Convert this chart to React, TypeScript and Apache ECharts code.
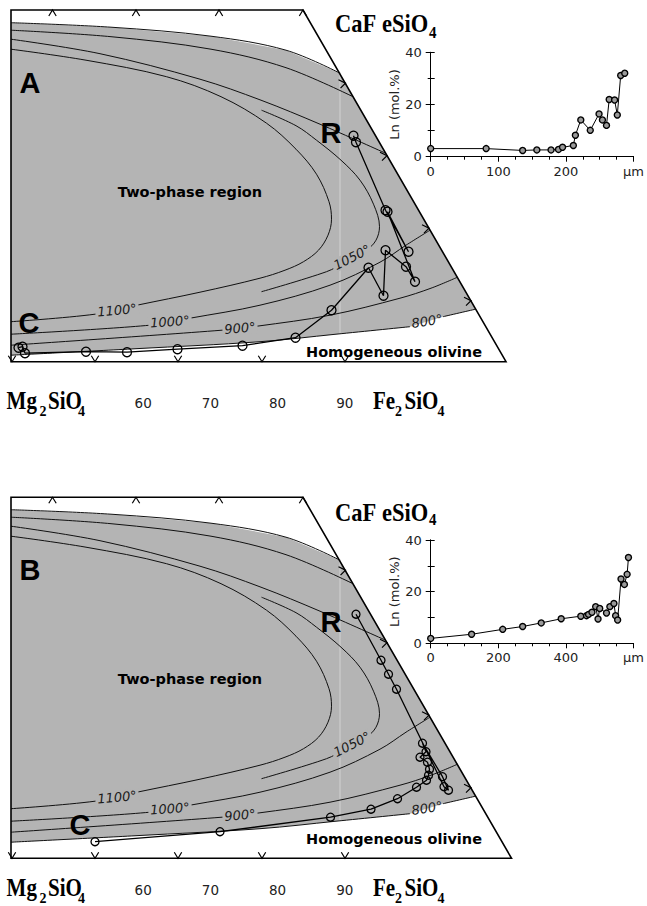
import React, { useEffect, useRef } from 'react';
import * as echarts from 'echarts';

const GRAY = '#b4b4b4';
const INK = '#000';

// ---------- Ternary panel geometry (diagram units, 1 unit = 5 px) ----------
const panelCornersA = [[0, 0], [0, 70.34], [58.4, 70.34], [99.0, 0]];
const panelCornersB = [[0, -1.92], [0, 70.28], [58.4, 70.28], [100.1, -1.92]];
const topTickX = [8.3, 25.0, 41.6, 58.4];
const bottomTickX = [0.2, 16.8, 33.4, 50.2, 66.8];
const edgeTicks = [[66.9, 55.7], [75.2, 41.2], [83.6, 26.7], [92.0, 12.2]];
const scanStreak = [[65.8, 5.6], [65.8, 57.9]];

// ---------- Solvus isotherms ----------
const boundary800Upper = [[0, 67.8], [20, 66.9], [40, 65.1], [55, 62.3], [65.6, 57.8]];
const boundary800LowerLeft = [[0, 1.3], [25, 2.6], [49.8, 4.0], [65, 5.5], [79.8, 7.0]];
const boundary800LowerRight = [[86.4, 9.0], [92.9, 10.5]];
const iso900Upper = [[0, 66.3], [20, 65.0], [40, 62.5], [55, 58.8], [68.4, 53.0]];
const iso900Lower = [[0, 3.3], [42.2, 6.3], [49.2, 7.1], [63.8, 9.3], [77.8, 12.7], [84, 14.7], [89.3, 16.9]];
const iso1000Upper = [[0, 64.5], [17.8, 61.6], [37.8, 56.5], [50, 52.3], [61.8, 47.5], [74.9, 41.7]];
const iso1000Lower = [[0, 5.5], [27.8, 7.3], [35.8, 8.7], [49.8, 11.3], [63.8, 15.3], [73.8, 19.9], [79, 23.3], [83.8, 26.3]];
const iso1050 = [[50.1, 50.3], [57, 47.2], [61.1, 44.3], [66, 40.3], [69.8, 36.3], [72.5, 31.5], [73.7, 27], [73, 24.3], [71.1, 22.3], [66.8, 19.9], [63.1, 18], [50.1, 14]];
const iso1100 = [[0, 62.5], [15, 60.3], [31.1, 57], [42, 53], [51.1, 47.7], [57, 42.5], [61.1, 37.5], [63.6, 32], [64.1, 28.5], [63.4, 25.3], [61.5, 22.3], [58.5, 20], [54.8, 18.3], [49.8, 16.7], [37.8, 13.9], [25.2, 11.3], [16.8, 9.5], [0, 8]];

const isothermLabels = [
  { text: '1100°', pos: [21.2, 10.3] },
  { text: '1000°', pos: [31.8, 8.0] },
  { text: '900°', pos: [45.8, 6.7] },
  { text: '1050°', pos: [68.2, 20.9] },
  { text: '800°', pos: [83.2, 8.1] },
];

// ---------- Zoning paths (core C to rim R) ----------
const pathA = [[1.5, 2.8], [2.3, 3.0], [2.8, 1.7], [15.0, 2.0], [23.2, 1.9], [33.3, 2.5], [46.3, 3.2], [56.9, 4.8], [64.1, 10.3], [71.5, 18.8], [74.5, 13.2], [74.9, 22.3], [79.0, 19.0], [80.8, 16.0], [75.3, 30.0], [79.5, 22.0], [74.9, 30.3], [69.0, 43.9], [68.5, 45.2]];
const pathB = [[16.8, 1.4], [41.8, 3.4], [63.9, 6.3], [72.0, 7.9], [77.3, 10.0], [81.1, 12.3], [83.1, 13.7], [83.5, 14.7], [83.7, 15.9], [83.3, 17.3], [81.8, 18.3], [83.0, 19.4], [82.3, 21.1], [86.3, 14.4], [87.5, 11.7], [86.6, 12.4], [77.1, 31.9], [75.5, 34.9], [74.0, 37.7], [69.0, 46.9]];

const lettersA = [{ text: 'A', pos: [3.8, 55.8] }, { text: 'R', pos: [64, 45.7] }, { text: 'C', pos: [3.6, 7.7] }];
const lettersB = [{ text: 'B', pos: [3.8, 55.8] }, { text: 'R', pos: [64, 45.4] }, { text: 'C', pos: [13.8, 4.7] }];
const regionTexts = [{ text: 'Two-phase region', pos: [35.8, 33.9] }, { text: 'Homogeneous olivine', pos: [76.6, 2.0] }];

// ---------- Inset profiles ----------
const insetADistance = [0, 82, 136, 157, 178, 189, 195, 211, 214, 222, 236, 249, 254, 260, 264, 272, 276, 281, 287];
const insetALn = [3.1, 3.1, 2.4, 2.6, 2.6, 2.8, 3.6, 4.3, 8.2, 14.1, 10.1, 16.4, 14.1, 12.0, 21.9, 21.7, 16.0, 31.1, 32.0];
const insetBDistance = [0, 121, 213, 272, 327, 386, 444, 461, 467, 477, 488, 495, 500, 520, 530, 542, 547, 553, 563, 573, 581, 585];
const insetBLn = [1.9, 3.5, 5.4, 6.5, 7.9, 9.5, 10.5, 10.7, 11.2, 12.0, 14.2, 9.4, 13.5, 11.7, 14.2, 15.4, 10.7, 9.0, 24.9, 22.8, 26.7, 33.2];

const compositionTicks = [60, 70, 80, 90];

const labelRotation: Record<string, number> = { '1100°': 5, '1000°': 4, '900°': 5, '1050°': 27, '800°': 9 };

function chevron(kind: 'top' | 'bottom' | 'edge') {
  return (params: any, api: any) => {
    const p = api.coord([api.value(0), api.value(1)]);
    let pts: number[][];
    if (kind === 'top') pts = [[p[0] - 3.7, p[1] + 6], [p[0], p[1]], [p[0] + 3.7, p[1] + 6]];
    else if (kind === 'bottom') pts = [[p[0] - 3.7, p[1] - 6], [p[0], p[1]], [p[0] + 3.7, p[1] - 6]];
    else pts = [[p[0] - 7, p[1] - 3.5], [p[0], p[1]], [p[0] - 5, p[1] + 5]];
    return { type: 'polyline', shape: { points: pts }, style: { stroke: '#000', lineWidth: 1.2, fill: 'none' } };
  };
}

const clearItem = { color: 'rgba(0,0,0,0)', opacity: 1 };

function panelSeries(axis: number, corners: number[][], path: number[][], letters: any[], marker: number) {
  const yTop = corners[1][1];
  const yBottom = corners[0][1];
  const region = [...boundary800Upper, ...boundary800LowerRight.slice().reverse(), ...boundary800LowerLeft.slice().reverse()];
  const base = { xAxisIndex: axis, yAxisIndex: axis, silent: true };
  const s: any[] = [];
  s.push({ ...base, type: 'custom', z: 1, clip: false, data: [[0, 0]],
    renderItem: (params: any, api: any) => ({ type: 'polygon', shape: { points: region.map((pt) => api.coord(pt)) }, style: { fill: GRAY } }) });
  s.push({ ...base, type: 'line', z: 2, data: scanStreak, symbol: 'none', lineStyle: { color: '#d2d2d2', width: 1 } });
  const curves = [boundary800Upper, boundary800LowerLeft, boundary800LowerRight, iso900Upper, iso900Lower, iso1000Upper, iso1000Lower, iso1050, iso1100];
  curves.forEach((c) => s.push({ ...base, type: 'line', z: 3, data: c, smooth: 0.35, symbol: 'none', lineStyle: { color: '#111', width: 1 } }));
  s.push({ ...base, type: 'custom', z: 5, clip: false, data: [[0, 0]],
    renderItem: (params: any, api: any) => ({ type: 'polygon', shape: { points: corners.map((pt) => api.coord(pt)) }, style: { fill: 'none', stroke: '#000', lineWidth: 1.6 } }) });
  s.push({ ...base, type: 'custom', z: 5, clip: false, data: topTickX.map((x) => [x, yTop]), renderItem: chevron('top') });
  s.push({ ...base, type: 'custom', z: 5, clip: false, data: bottomTickX.map((x) => [x, yBottom]), renderItem: chevron('bottom') });
  s.push({ ...base, type: 'custom', z: 5, clip: false, data: edgeTicks, renderItem: chevron('edge') });
  s.push({ ...base, type: 'line', z: 6, data: path, symbol: 'circle', symbolSize: marker,
    lineStyle: { color: '#000', width: 1.3 }, itemStyle: { color: 'rgba(0,0,0,0)', borderColor: '#000', borderWidth: 1.3 } });
  s.push({ ...base, type: 'scatter', z: 8, symbolSize: 1, itemStyle: clearItem,
    data: isothermLabels.map((l) => ({ value: l.pos, label: { formatter: l.text, rotate: labelRotation[l.text], backgroundColor: l.text === '800°' ? 'rgba(0,0,0,0)' : GRAY } })),
    label: { show: true, position: 'inside', fontFamily: 'DejaVu Sans', fontStyle: 'italic', fontSize: 13, color: '#1a1a1a', padding: [0, 2] } });
  s.push({ ...base, type: 'scatter', z: 9, symbolSize: 1, itemStyle: clearItem,
    data: letters.map((l) => ({ value: l.pos, label: { formatter: l.text } })),
    label: { show: true, position: 'inside', fontFamily: 'Liberation Sans', fontWeight: 'bold', fontSize: 29, color: INK } });
  s.push({ ...base, type: 'scatter', z: 9, symbolSize: 1, itemStyle: clearItem,
    data: regionTexts.map((l) => ({ value: l.pos, label: { formatter: l.text } })),
    label: { show: true, position: 'inside', fontFamily: 'DejaVu Sans', fontWeight: 'bold', fontSize: 14.5, color: INK } });
  return s;
}

function insetAxes(grid: number, max: number, interval: number) {
  const line = { lineStyle: { color: '#000', width: 1 } };
  const x = [
    { gridIndex: grid, type: 'value', min: 0, max, interval, axisLine: line, splitLine: { show: false },
      axisTick: { length: 5, ...line }, minorTick: { show: true, splitNumber: 4, length: 3, ...line },
      axisLabel: { formatter: (v: number) => (v === max ? 'µm' : String(v)), showMaxLabel: true, color: '#222', fontSize: 13, fontFamily: 'DejaVu Sans', margin: 8 } },
    { gridIndex: grid, type: 'value', position: 'top', min: 0, max, interval, axisLine: line, splitLine: { show: false },
      axisTick: { inside: true, length: 4, ...line }, minorTick: { show: false }, axisLabel: { show: false } },
  ];
  const y = [
    { gridIndex: grid, type: 'value', min: 0, max: 40, interval: 20, axisLine: line, splitLine: { show: false },
      axisTick: { length: 5, ...line }, minorTick: { show: true, splitNumber: 2, length: 3, ...line },
      axisLabel: { color: '#222', fontSize: 13, fontFamily: 'DejaVu Sans', margin: 9 },
      name: 'Ln (mol.%)', nameLocation: 'middle', nameGap: 22, nameTextStyle: { color: '#222', fontSize: 13, fontFamily: 'DejaVu Sans' } },
    { gridIndex: grid, type: 'value', position: 'right', min: 0, max: 40, interval: 10, axisLine: line, splitLine: { show: false },
      axisTick: { length: 4, ...line }, axisLabel: { show: false } },
  ];
  return { x, y };
}

function insetSeries(xi: number, yi: number, dist: number[], ln: number[]) {
  return {
    type: 'line', xAxisIndex: xi, yAxisIndex: yi, silent: true, z: 5,
    data: dist.map((d, i) => [d, ln[i]]), symbol: 'circle', symbolSize: 6,
    lineStyle: { color: '#000', width: 1 }, itemStyle: { color: '#9a9a9a', borderColor: '#000', borderWidth: 1.4 },
  };
}

function labelAxis(grid: number) {
  return {
    gridIndex: grid, type: 'value', min: 50, max: 100, interval: 10,
    axisLine: { show: false }, axisTick: { show: false }, splitLine: { show: false },
    axisLabel: { formatter: (v: number) => (compositionTicks.includes(v) ? String(v) : ''), color: '#222', fontSize: 13.5, fontFamily: 'DejaVu Sans', margin: 0 },
  };
}

function serifText(text: string, x: number, y: number, size: number, sy: number) {
  return { type: 'text', x, y, scaleY: sy, silent: true,
    style: { text, x: 0, y: 0, font: `bold ${size}px "Liberation Serif"`, fill: INK, textAlign: 'left', textVerticalAlign: 'middle' } };
}

function formulaGraphics(dy: number, dyTop: number) {
  const main = 21, sub = 14, sy = 1.15;
  return [
    serifText('CaF', 335, 22.5 + dyTop, 22.5, 1.15),
    serifText('eSiO', 382, 22.5 + dyTop, 22.5, 1.15),
    serifText('4', 429, 32 + dy, sub + 1, 1.05),
    serifText('M', 6.5, 401 + dy, main, sy),
    serifText('g', 26.5, 401 + dy, main, sy),
    serifText('2', 39.5, 411 + dy, sub, 1.05),
    serifText('SiO', 48, 401 + dy, main, sy),
    serifText('4', 78, 411 + dy, sub, 1.05),
    serifText('Fe', 373, 401 + dy, main, sy),
    serifText('2', 395, 411 + dy, sub, 1.05),
    serifText('SiO', 404.5, 401 + dy, main, sy),
    serifText('4', 437.5, 411 + dy, sub, 1.05),
  ];
}

function buildOption() {
  const insA = insetAxes(2, 300, 100);
  const insB = insetAxes(3, 600, 200);
  const hidden = { show: false };
  return {
    animation: false,
    backgroundColor: '#fff',
    grid: [
      { left: 11, top: 10, width: 510, height: 351.7 },
      { left: 11, top: 497.3, width: 510, height: 361 },
      { left: 430.7, top: 52.3, width: 211, height: 104.4 },
      { left: 430.7, top: 540, width: 211, height: 103.3 },
      { left: 76, top: 395, width: 336, height: 1 },
      { left: 76, top: 882, width: 336, height: 1 },
    ],
    xAxis: [
      { gridIndex: 0, type: 'value', min: 0, max: 102, ...hidden },
      { gridIndex: 1, type: 'value', min: 0, max: 102, ...hidden },
      insA.x[0], insA.x[1], insB.x[0], insB.x[1],
      labelAxis(4), labelAxis(5),
    ],
    yAxis: [
      { gridIndex: 0, type: 'value', min: 0, max: 70.34, ...hidden },
      { gridIndex: 1, type: 'value', min: -1.92, max: 70.28, ...hidden },
      insA.y[0], insA.y[1], insB.y[0], insB.y[1],
      { gridIndex: 4, type: 'value', ...hidden },
      { gridIndex: 5, type: 'value', ...hidden },
    ],
    series: [
      ...panelSeries(0, panelCornersA, pathA, lettersA, 9),
      ...panelSeries(1, panelCornersB, pathB, lettersB, 8),
      insetSeries(2, 2, insetADistance, insetALn),
      insetSeries(4, 4, insetBDistance, insetBLn),
    ],
    graphic: [...formulaGraphics(0, 0), ...formulaGraphics(487, 489)],
  };
}

export default function App() {
  const ref = useRef<HTMLDivElement>(null);
  useEffect(() => {
    const chart = echarts.init(ref.current!, null, { renderer: 'svg' });
    chart.setOption(buildOption() as any);
    return () => chart.dispose();
  }, []);
  return <div ref={ref} style={{ position: 'absolute', left: 0, top: 0, width: 647, height: 906, background: '#fff' }} />;
}
